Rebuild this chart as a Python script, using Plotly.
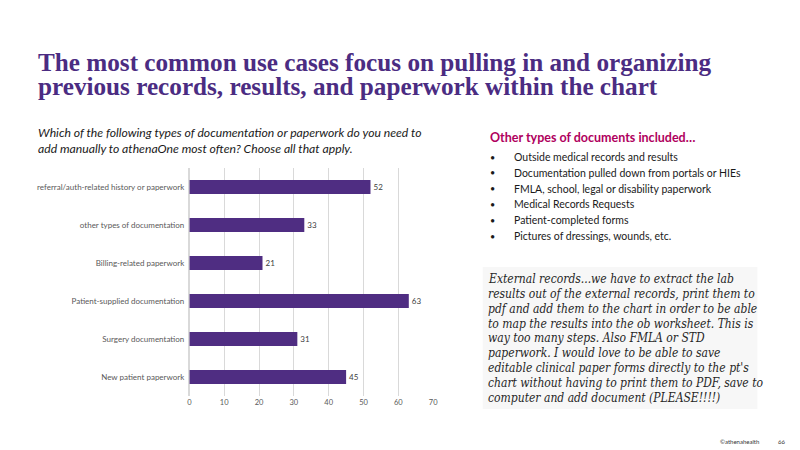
import plotly.graph_objects as go

categories = [
    "referral/auth-related history or paperwork",
    "other types of documentation",
    "Billing-related paperwork",
    "Patient-supplied documentation",
    "Surgery documentation",
    "New patient paperwork",
]
values = [52, 33, 21, 63, 31, 45]
x_ticks = [0, 10, 20, 30, 40, 50, 60, 70]

title_lines = [
    "The most common use cases focus on pulling in and organizing",
    "previous records, results, and paperwork within the chart",
]
question_lines = [
    "Which of the following types of documentation or paperwork do you need to",
    "add manually to athenaOne most often? Choose all that apply.",
]
other_header = "Other types of documents included…"
other_items = [
    "Outside medical records and results",
    "Documentation pulled down from portals or HIEs",
    "FMLA, school, legal or disability paperwork",
    "Medical Records Requests",
    "Patient-completed forms",
    "Pictures of dressings, wounds, etc.",
]
quote_lines = [
    "External records...we have to extract the lab",
    "results out of the external records, print them to",
    "pdf and add them to the chart in order to be able",
    "to map the results into the ob worksheet. This is",
    "way too many steps. Also FMLA or STD",
    "paperwork. I would love to be able to save",
    "editable clinical paper forms directly to the pt's",
    "chart without having to print them to PDF, save to",
    "computer and add document (PLEASE!!!!)",
]

PURPLE = "#4B2C82"
W, H = 800, 450

def px(x):
    return x / W

def py(y):
    return 1 - y / H

fig = go.Figure()
fig.add_trace(go.Bar(
    x=values, y=categories, orientation="h",
    marker=dict(color="#4F2D82", line=dict(width=0)),
    width=0.37,
    text=[str(v) for v in values], textposition="outside",
    textfont=dict(family="Lato", size=8, color="#404040"),
    cliponaxis=False,
))

ann = []
for i, t in enumerate(title_lines):
    ann.append(dict(text=f"<b>{t}</b>", x=px(34), y=py(62 + i * 24.5), xref="paper", yref="paper",
                    xanchor="left", yanchor="middle", showarrow=False,
                    font=dict(family="Liberation Serif", size=25.2, color=PURPLE)))
for i, t in enumerate(question_lines):
    ann.append(dict(text=f"<i>{t}</i>", x=px(34), y=py(132 + i * 16), xref="paper", yref="paper",
                    xanchor="left", yanchor="middle", showarrow=False,
                    font=dict(family="Lato", size=12.2, color="#1a1a1a")))
ann.append(dict(text=f"<b>{other_header}</b>", x=px(490), y=py(137), xref="paper", yref="paper",
                xanchor="left", yanchor="middle", showarrow=False,
                font=dict(family="Lato", size=12.5, color="#B0005E")))
for i, t in enumerate(other_items):
    yy = py(157 + i * 15.8)
    ann.append(dict(text="•", x=px(490), y=yy, xref="paper", yref="paper",
                    xanchor="left", yanchor="middle", showarrow=False,
                    font=dict(family="Lato", size=9, color="#1a1a1a")))
    ann.append(dict(text=t, x=px(515), y=yy, xref="paper", yref="paper",
                    xanchor="left", yanchor="middle", showarrow=False,
                    font=dict(family="Lato", size=10.5, color="#1a1a1a")))
for i, t in enumerate(quote_lines):
    ann.append(dict(text=f"<i>{t}</i>", x=px(488), y=py(279 + i * 14.85), xref="paper", yref="paper",
                    xanchor="left", yanchor="middle", showarrow=False,
                    font=dict(family="DejaVu Serif Condensed", size=12, color="#262626")))
ann.append(dict(text="©athenahealth", x=px(722), y=py(441), xref="paper", yref="paper",
                xanchor="left", yanchor="middle", showarrow=False,
                font=dict(family="Lato", size=6, color="#333333")))
ann.append(dict(text="66", x=px(781), y=py(441), xref="paper", yref="paper",
                xanchor="left", yanchor="middle", showarrow=False,
                font=dict(family="Lato", size=6, color="#333333")))

fig.update_layout(
    width=W, height=H,
    margin=dict(l=0, r=0, t=0, b=0),
    paper_bgcolor="white", plot_bgcolor="white",
    showlegend=False,
    annotations=ann,
    shapes=[dict(type="rect", xref="paper", yref="paper",
                 x0=px(485), x1=px(762), y0=py(409), y1=py(267),
                 fillcolor="#F7F7F7", line=dict(width=0), layer="below")],
    xaxis=dict(domain=[px(189), px(435)], range=[0, 70], tickvals=x_ticks,
               showgrid=True, gridcolor="#D9D9D9", gridwidth=1, zeroline=True,
               zerolinecolor="#D9D9D9", showline=False, ticks="",
               tickfont=dict(family="Lato", size=7.5, color="#595959"), ticklen=0),
    yaxis=dict(domain=[py(396), py(168)], autorange="reversed",
               showgrid=False, ticks="", showline=False,
               tickfont=dict(family="Lato", size=8, color="#595959"), ticksuffix="  "),
    bargap=0.63,
)

fig.write_html("out.html", config={"displayModeBar": False},
               post_script="document.body.style.margin='0';document.body.style.overflow='hidden';")
